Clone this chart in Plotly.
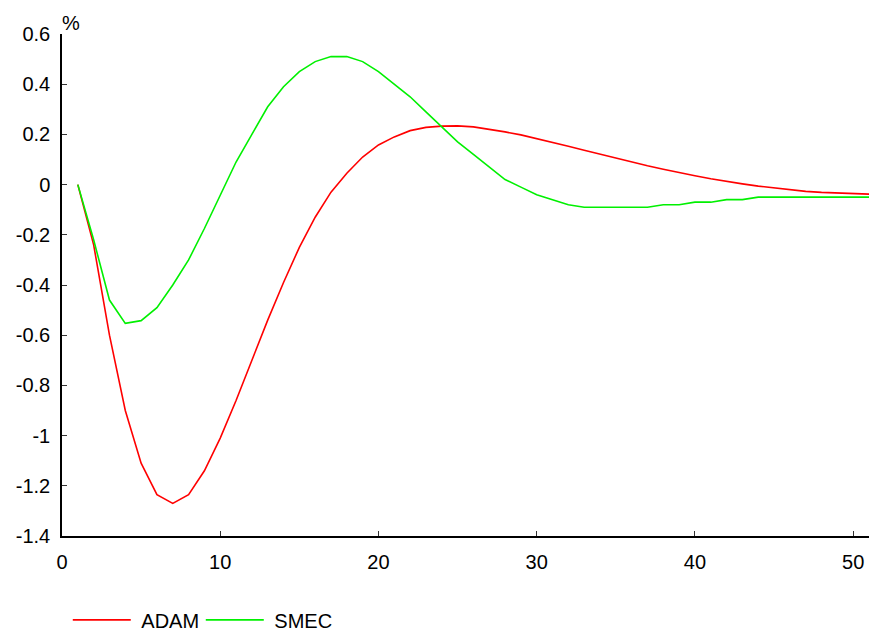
import plotly.graph_objects as go

periods = list(range(1, 52))
adam = [0, -0.24, -0.60, -0.90, -1.11, -1.235, -1.27, -1.235, -1.14, -1.01,
        -0.86, -0.70, -0.54, -0.39, -0.25, -0.13, -0.03, 0.045, 0.11, 0.158,
        0.19, 0.215, 0.228, 0.233, 0.234, 0.23, 0.221, 0.21, 0.198, 0.184,
        0.17, 0.153, 0.137, 0.121, 0.105, 0.09, 0.075, 0.061, 0.047, 0.035,
        0.023, 0.012, 0.003, -0.006, -0.014, -0.021, -0.027, -0.031, -0.034,
        -0.036, -0.038]
smec = [0, -0.22, -0.46, -0.553, -0.542, -0.49, -0.40, -0.30, -0.175, -0.04,
        0.09, 0.20, 0.31, 0.39, 0.45, 0.49, 0.51, 0.51, 0.49, 0.45,
        0.40, 0.35, 0.29, 0.23, 0.17, 0.12, 0.07, 0.02, -0.01, -0.04,
        -0.06, -0.08, -0.09, -0.09, -0.09, -0.09, -0.09, -0.08, -0.08, -0.07,
        -0.07, -0.06, -0.06, -0.05, -0.05, -0.05, -0.05, -0.05, -0.05, -0.05,
        -0.05]
x_ticks = [0, 10, 20, 30, 40, 50]
y_ticks = [0.6, 0.4, 0.2, 0, -0.2, -0.4, -0.6, -0.8, -1, -1.2, -1.4]
y_labels = ["0.6", "0.4", "0.2", "0", "-0.2", "-0.4", "-0.6", "-0.8", "-1", "-1.2", "-1.4"]
x_range = [0, 51]
y_range = [-1.4, 0.6]

FONT = "Liberation Sans, Arial, Helvetica, sans-serif"

fig = go.Figure()
fig.add_trace(go.Scatter(x=periods, y=adam, mode="lines", name="\u00a0ADAM",
                         line=dict(color="#ff0000", width=1.6)))
fig.add_trace(go.Scatter(x=periods, y=smec, mode="lines", name="\u00a0SMEC",
                         line=dict(color="#00f000", width=1.6)))

fig.update_layout(
    width=869, height=632,
    margin=dict(l=62, r=0, t=34, b=96, autoexpand=False),
    paper_bgcolor="white", plot_bgcolor="white",
    font=dict(family=FONT, size=20, color="black"),
    showlegend=True,
    legend=dict(orientation="h", xref="container", yref="paper",
                x=0.078, y=-0.167, xanchor="left", yanchor="middle",
                itemwidth=58, entrywidth=60,
                font=dict(size=20), bgcolor="rgba(0,0,0,0)"),
    xaxis=dict(range=x_range, tickvals=x_ticks, ticktext=[str(v) for v in x_ticks],
               ticks="inside", ticklen=5, tickcolor="#333", tickwidth=1,
               showline=True, linecolor="black", linewidth=1.5,
               showgrid=False, zeroline=False, ticklabelstandoff=7,
               automargin=False),
    yaxis=dict(range=y_range, tickvals=y_ticks, ticktext=y_labels,
               ticks="inside", ticklen=5, tickcolor="#333", tickwidth=1,
               showline=True, linecolor="black", linewidth=1.5,
               showgrid=False, zeroline=False, ticklabelstandoff=6,
               automargin=False),
    yaxis2=dict(range=y_range, overlaying="y", side="right", anchor="x",
                tickvals=y_ticks, showticklabels=False, ticks="inside",
                ticklen=5, tickcolor="#666", tickwidth=1.5,
                showline=False, showgrid=False, zeroline=False),
    xaxis2=dict(range=x_range, overlaying="x", anchor="free", position=0.7,
                side="bottom", dtick=0.5, tick0=0, showticklabels=False,
                ticks="outside", ticklen=1, tickcolor="#555", tickwidth=1,
                showline=True, linecolor="#222", linewidth=1,
                showgrid=False, zeroline=False),
    annotations=[dict(text="%", xref="paper", yref="paper", x=0, y=1,
                      xanchor="left", yanchor="bottom", showarrow=False,
                      font=dict(size=20), xshift=-2, yshift=-2)],
)

fig.write_html("out.html")
